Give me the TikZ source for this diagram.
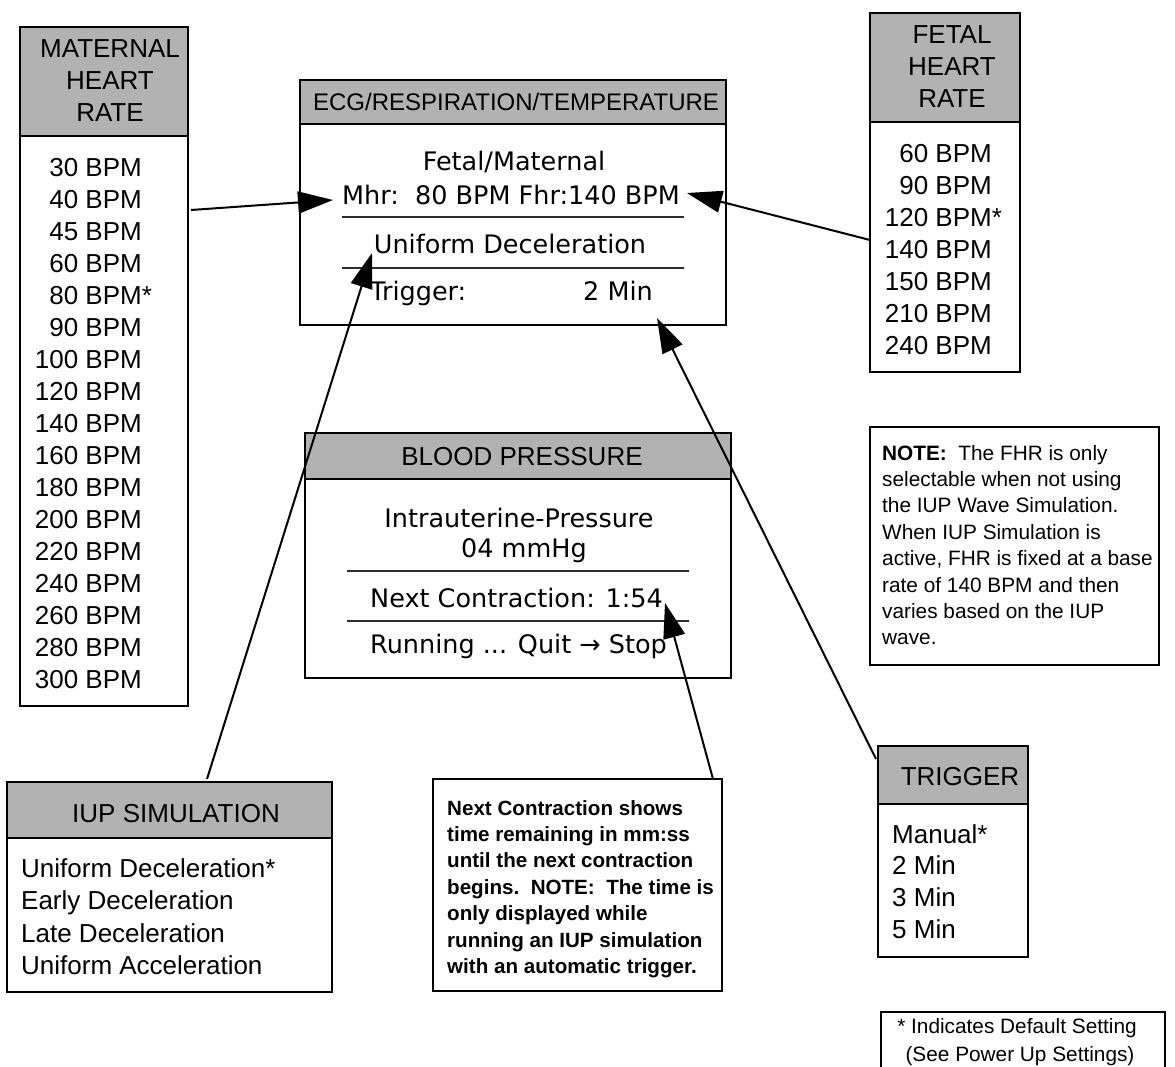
\documentclass[tikz,border=0pt]{standalone}
\usepackage{fontspec}
\setmainfont{Liberation Sans}
\newfontfamily\lcdfont{DejaVu Sans}
\usetikzlibrary{arrows.meta}
\definecolor{hdrgray}{RGB}{178,178,178}
\definecolor{sepgray}{RGB}{45,45,45}
\tikzset{
  frame/.style={draw, line width=2.4pt, inner sep=0pt, outer sep=0pt, anchor=north west, fill=white},
  hdrbox/.style={frame, fill=hdrgray},
  big/.style={font=\fontsize{26}{32}\selectfont, inner sep=0pt},
  ecghead/.style={font=\fontsize{24}{30}\selectfont, inner sep=0pt},
  lcdtxt/.style={font=\lcdfont\fontsize{25.5}{30}\selectfont, inner sep=0pt},
  notetxt/.style={font=\fontsize{20.8}{26}\selectfont, inner sep=0pt, anchor=base west},
  boldnote/.style={font=\bfseries\fontsize{20.6}{26}\selectfont, inner sep=0pt, anchor=base west},
  sepline/.style={line width=2pt, sepgray},
  arr/.style={line width=2pt, -{Triangle[length=35pt,width=22pt]}}
}
\begin{document}
\begin{tikzpicture}[x=1pt, y=-1pt]
\useasboundingbox (0,0) rectangle (1175,1066);
\clip (0,0) rectangle (1175,1066);

% ---------- MATERNAL HEART RATE ----------
\node[hdrbox, minimum width=168pt, minimum height=109pt] (mhrH) at (20,27) {};
\node[frame, minimum width=168pt, minimum height=570pt] (mhrB) at (20,136) {};
\foreach \t [count=\i] in {MATERNAL, HEART, RATE}
  \node[big, anchor=base] (mhrt\i) at (110,{57+32*(\i-1)}) {\t};
\foreach \t [count=\i] in {{30 BPM},{40 BPM},{45 BPM},{60 BPM},{80 BPM\rlap{*}},{90 BPM},{100 BPM},{120 BPM},{140 BPM},{160 BPM},{180 BPM},{200 BPM},{220 BPM},{240 BPM},{260 BPM},{280 BPM},{300 BPM}}
  \node[big, anchor=base east] (mhrv\i) at (142,{176+32*(\i-1)}) {\t};

% ---------- ECG/RESPIRATION/TEMPERATURE ----------
\node[hdrbox, minimum width=426pt, minimum height=44pt] (ecgH) at (300,80) {};
\node[frame, minimum width=426pt, minimum height=201pt] (ecgB) at (300,124) {};
\node[ecghead, anchor=base] (ecgT) at (516,110) {ECG/RESPIRATION/TEMPERATURE};
\node[lcdtxt, anchor=base] (ecg1) at (514,170) {Fetal/Maternal};
\node[lcdtxt, anchor=base] (ecg2) at (511,204) {Mhr:\ \ 80 BPM Fhr:140 BPM};
\draw[sepline] (342,217) -- (684,217);
\node[lcdtxt, anchor=base] (ecg3) at (510,253) {Uniform Deceleration};
\draw[sepline] (342,268) -- (684,268);
\node[lcdtxt, anchor=base west] (ecg4) at (370,300) {Trigger:};
\node[lcdtxt, anchor=base east] (ecg5) at (653,300) {2 Min};

% ---------- FETAL HEART RATE ----------
\node[hdrbox, minimum width=150pt, minimum height=109pt] (fhrH) at (870,13) {};
\node[frame, minimum width=150pt, minimum height=250pt] (fhrB) at (870,122) {};
\foreach \t [count=\i] in {FETAL, HEART, RATE}
  \node[big, anchor=base] (fhrt\i) at (952,{43+32*(\i-1)}) {\t};
\foreach \t [count=\i] in {{60 BPM},{90 BPM},{120 BPM\rlap{*}},{140 BPM},{150 BPM},{210 BPM},{240 BPM}}
  \node[big, anchor=base east] (fhrv\i) at (992,{162+32*(\i-1)}) {\t};

% ---------- BLOOD PRESSURE ----------
\node[hdrbox, minimum width=426pt, minimum height=46pt] (bpH) at (305,433) {};
\node[frame, minimum width=426pt, minimum height=199pt] (bpB) at (305,479) {};
\node[big, anchor=base] (bpT) at (522,465) {BLOOD PRESSURE};
\node[lcdtxt, anchor=base] (bp1) at (519,527) {Intrauterine-Pressure};
\node[lcdtxt, anchor=base] (bp2) at (524,557) {04 mmHg};
\draw[sepline] (347,571) -- (689,571);
\node[lcdtxt, anchor=base west] (bp3) at (370,607) {Next Contraction: 1:54};
\draw[sepline] (347,621) -- (689,621);
\node[lcdtxt, anchor=base west] (bp4) at (370,653) {Running ... Quit → Stop};

% ---------- NOTE (FHR) ----------
\node[frame, minimum width=289pt, minimum height=238pt] (fhrN) at (870,427) {};
\foreach \t [count=\i] in {{\textbf{NOTE:}\ \ The FHR is only},{selectable when not using},{the IUP Wave Simulation.},{When IUP Simulation is},{active, FHR is fixed at a base},{rate of 140 BPM and then},{varies based on the IUP},{wave.}}
  \node[notetxt] (fhrn\i) at (882,{460+26.4*(\i-1)}) {\t};

% ---------- IUP SIMULATION ----------
\node[hdrbox, minimum width=325pt, minimum height=56pt] (iupH) at (7,782) {};
\node[frame, minimum width=325pt, minimum height=154pt] (iupB) at (7,838) {};
\node[big, anchor=base] (iupT) at (176,822) {IUP SIMULATION};
\foreach \t [count=\i] in {{Uniform Deceleration*},{Early Deceleration},{Late Deceleration},{Uniform Acceleration}}
  \node[big, anchor=base west] (iupv\i) at (21,{877+32.6*(\i-1)}) {\t};

% ---------- NEXT CONTRACTION NOTE ----------
\node[frame, minimum width=289pt, minimum height=212pt] (ncN) at (433,779) {};
\foreach \t [count=\i] in {{Next Contraction shows},{time remaining in mm:ss},{until the next contraction},{begins.\ \ NOTE:\ \ The time is},{only displayed while},{running an IUP simulation},{with an automatic trigger.}}
  \node[boldnote] (ncn\i) at (447,{815+26.4*(\i-1)}) {\t};

% ---------- TRIGGER ----------
\node[hdrbox, minimum width=150pt, minimum height=58pt] (trgH) at (878,746) {};
\node[frame, minimum width=150pt, minimum height=153pt] (trgB) at (878,804) {};
\node[big, anchor=base] (trgT) at (960,785) {TRIGGER};
\foreach \t [count=\i] in {{Manual*},{2 Min},{3 Min},{5 Min}}
  \node[big, anchor=base west] (trgv\i) at (892,{843+31.7*(\i-1)}) {\t};

% ---------- FOOTNOTE ----------
\node[frame, minimum width=284pt, minimum height=90pt] (foot) at (881,1012) {};
\node[notetxt, anchor=base] (foot1) at (1017,1033) {* Indicates Default Setting};
\node[notetxt, anchor=base] (foot2) at (1020,1061) {(See Power Up Settings)};

% ---------- CONNECTORS ----------
\coordinate (mhrOut) at (191,210);
\coordinate (mhrTip) at (333,200);
\coordinate (fhrOut) at (870,240);
\coordinate (fhrTip) at (687,193);
\coordinate (iupOut) at (207,779);
\coordinate (iupTip) at (372,253);
\coordinate (ncOut) at (713,779);
\coordinate (ncTip) at (665,603);
\coordinate (trgOut) at (876,759);
\coordinate (trgTip) at (657,318);
\draw[arr] (mhrOut) -- (mhrTip);
\draw[arr] (fhrOut) -- (fhrTip);
\draw[arr] (iupOut) -- (iupTip);
\draw[arr] (ncOut) -- (ncTip);
\draw[arr] (trgOut) -- (trgTip);
\end{tikzpicture}
\end{document}
